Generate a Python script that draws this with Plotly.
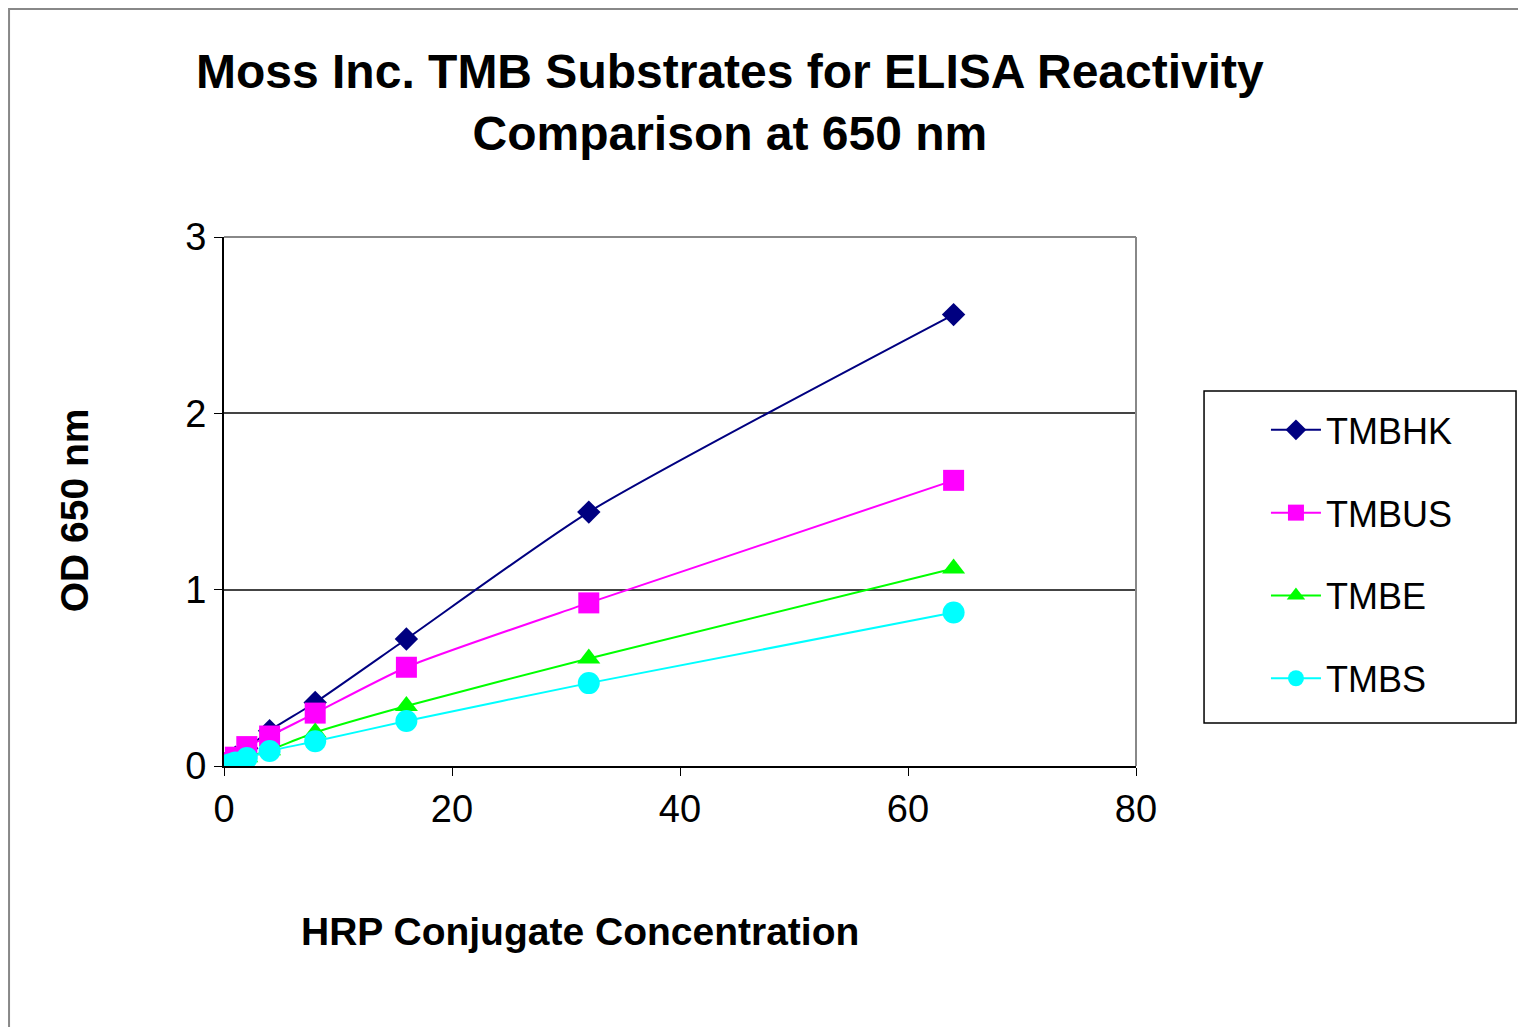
import plotly.graph_objects as go

conc = [0, 0.5, 1, 2, 4, 8, 16, 32, 64]
tmbhk = [0.0, 0.02, 0.05, 0.10, 0.20, 0.36, 0.72, 1.44, 2.56]
tmbus = [0.0, 0.02, 0.05, 0.11, 0.17, 0.30, 0.56, 0.925, 1.62]
tmbe = [0.0, 0.01, 0.02, 0.05, 0.09, 0.19, 0.34, 0.61, 1.12]
tmbs = [0.0, 0.01, 0.02, 0.045, 0.085, 0.14, 0.255, 0.47, 0.87]

series = [
    ("TMBHK", tmbhk, "#000080", "diamond", 18),
    ("TMBUS", tmbus, "#FF00FF", "square", 21),
    ("TMBE", tmbe, "#00FF00", "triangle-up", 20),
    ("TMBS", tmbs, "#00FFFF", "circle", 22),
]

fig = go.Figure()
for i, (name, vals, col, sym, sz) in enumerate(series):
    fig.add_trace(go.Scatter(
        x=conc, y=vals, name=name, mode="lines+markers",
        line=dict(color=col, width=2, shape="spline", smoothing=0.6),
        marker=dict(color=col, symbol=sym, size=sz, line=dict(width=0)),
        legendgroup=f"g{i}",
    ))

font_main = "Liberation Sans, Arial, sans-serif"

fig.update_layout(
    width=1510, height=1019,
    margin=dict(l=216, r=382, t=229, b=261),
    paper_bgcolor="white", plot_bgcolor="white",
    font=dict(family=font_main, color="black"),
    showlegend=True,
    legend=dict(
        x=1.1425, y=0.692, xanchor="left", yanchor="top",
        borderwidth=0, bgcolor="rgba(0,0,0,0)",
        font=dict(size=36, family=font_main, color="black"),
        traceorder="grouped", tracegroupgap=33,
        itemwidth=50,
    ),
    annotations=[
        dict(text="<b>Moss Inc. TMB Substrates for ELISA Reactivity<br>Comparison at 650 nm</b>",
             xref="paper", yref="paper", x=0.555, y=1.255, xanchor="center", yanchor="middle",
             showarrow=False, font=dict(size=48, family=font_main, color="black")),
        dict(text="<b>HRP Conjugate Concentration</b>",
             xref="paper", yref="paper", x=0.390, y=-0.312, xanchor="center", yanchor="middle",
             showarrow=False, font=dict(size=39, family=font_main, color="black")),
        dict(text="<b>OD 650 nm</b>", textangle=-90,
             xref="paper", yref="paper", x=-0.163, y=0.484, xanchor="center", yanchor="middle",
             showarrow=False, font=dict(size=39, family=font_main, color="black")),
    ],
    shapes=[
        dict(type="rect", xref="paper", yref="paper", x0=-0.2357, y0=-0.7, x1=1.6, y1=1.431,
             line=dict(color="#888888", width=2), layer="below"),
        dict(type="rect", xref="paper", yref="paper", x0=1.0746, y0=0.0813, x1=1.4167, y1=0.7089,
             line=dict(color="black", width=1.5), layer="below"),
        dict(type="line", xref="paper", yref="paper", x0=0, y0=1, x1=1, y1=1,
             line=dict(color="#888888", width=2)),
        dict(type="line", xref="paper", yref="paper", x0=1, y0=0, x1=1, y1=1,
             line=dict(color="#888888", width=2)),
    ],
)

fig.update_xaxes(
    range=[0, 80], tickvals=[0, 20, 40, 60, 80], ticks="outside", ticklen=8,
    tickcolor="black", showline=True, linecolor="black", linewidth=2,
    showgrid=False, zeroline=False,
    tickfont=dict(size=38, family=font_main, color="black"),
)
fig.update_yaxes(
    range=[0, 3], tickvals=[0, 1, 2, 3], ticks="outside", ticklen=8,
    tickcolor="black", showline=True, linecolor="black", linewidth=2,
    showgrid=True, gridcolor="#444444", gridwidth=1.5, zeroline=False,
    tickfont=dict(size=38, family=font_main, color="black"),
)

fig.write_html("out.html")
